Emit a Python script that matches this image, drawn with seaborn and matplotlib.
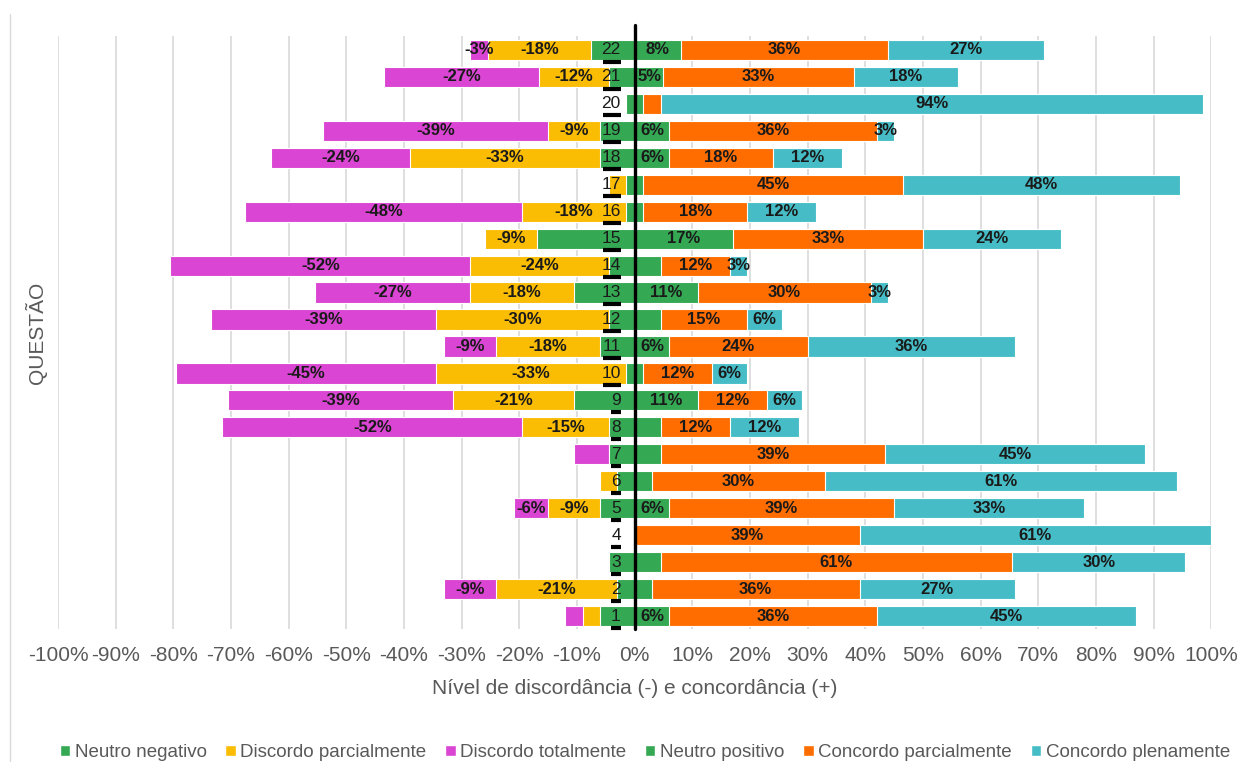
import matplotlib
matplotlib.use("Agg")
import matplotlib.pyplot as plt
from matplotlib.patches import Patch
from matplotlib.lines import Line2D
import pandas as pd
import seaborn as sns

# Questions 1..22 (values in %)
questoes = list(range(1, 23))
neutro_negativo = [6, 3, 4.5, 0, 6, 3, 4.5, 4.5, 10.5, 1.5, 6, 4.5, 10.5, 4.5, 17, 1.5, 1.5, 6, 6, 1.5, 4.5, 7.5]
discordo_parcial = [3, 21, 0, 0, 9, 3, 0, 15, 21, 33, 18, 30, 18, 24, 9, 18, 3, 33, 9, 0, 12, 18]
discordo_total = [3, 9, 0, 0, 6, 0, 6, 52, 39, 45, 9, 39, 27, 52, 0, 48, 0, 24, 39, 0, 27, 3]
neutro_positivo = [6, 3, 4.5, 0, 6, 3, 4.5, 4.5, 11, 1.5, 6, 4.5, 11, 4.5, 17, 1.5, 1.5, 6, 6, 1.5, 5, 8]
concordo_parcial = [36, 36, 61, 39, 39, 30, 39, 12, 12, 12, 24, 15, 30, 12, 33, 18, 45, 18, 36, 3, 33, 36]
concordo_pleno = [45, 27, 30, 61, 33, 61, 45, 12, 6, 6, 36, 6, 3, 3, 24, 12, 48, 12, 3, 94, 18, 27]

# labels not shown in the original
sem_rotulo_total = [1, 7]

legend_labels = ["Neutro negativo", "Discordo parcialmente", "Discordo totalmente",
                 "Neutro positivo", "Concordo parcialmente", "Concordo plenamente"]

GREEN = "#34A853"
YELLOW = "#FBBC04"
MAGENTA = "#DA45D3"
ORANGE = "#FF6D01"
CYAN = "#46BDC6"
GREY = "#595959"

sns.set_style("white")
plt.rcParams["font.family"] = ["Liberation Sans", "DejaVu Sans"]

df = pd.DataFrame({
    "q": [str(q) for q in questoes],
    "nn": neutro_negativo, "dp": discordo_parcial, "dt": discordo_total,
    "np": neutro_positivo, "cp": concordo_parcial, "cl": concordo_pleno,
})
df["left_dp"] = -(df["nn"] + df["dp"])
df["left_dt"] = -(df["nn"] + df["dp"] + df["dt"])
df["left_nn"] = -df["nn"]
df["right_cp"] = df["np"] + df["cp"]
df["right_cl"] = df["np"] + df["cp"] + df["cl"]

order = [str(q) for q in reversed(questoes)]

fig = plt.figure(figsize=(12.4, 7.62), dpi=100)
ax = fig.add_axes([0.0468, 0.1739, 0.93, 0.7782])

bar_kw = dict(y="q", order=order, orient="h", width=0.75, errorbar=None,
              edgecolor="white", linewidth=0.8, ax=ax, zorder=2)
# stacked via overdrawn cumulative bars
sns.barplot(data=df, x="right_cl", color=CYAN, saturation=1, **bar_kw)
sns.barplot(data=df, x="right_cp", color=ORANGE, saturation=1, **bar_kw)
sns.barplot(data=df, x="np", color=GREEN, saturation=1, **bar_kw)
sns.barplot(data=df, x="left_dt", color=MAGENTA, saturation=1, **bar_kw)
sns.barplot(data=df, x="left_dp", color=YELLOW, saturation=1, **bar_kw)
sns.barplot(data=df, x="left_nn", color=GREEN, saturation=1, **bar_kw)

# segment labels
lab_kw = dict(ha="center", va="center", fontsize=12, fontweight="bold", color="#1a1a1a", zorder=4)
for _, r in df.iterrows():
    q = int(r["q"])
    pos = order.index(r["q"])
    if r["dp"] >= 5:
        ax.text(-(r["nn"] + r["dp"] / 2), pos, f"-{r['dp']:.0f}%", **lab_kw)
    if r["dt"] >= 3 and q not in sem_rotulo_total:
        ax.text(-(r["nn"] + r["dp"] + r["dt"] / 2), pos, f"-{r['dt']:.0f}%", **lab_kw)
    if r["np"] >= 5:
        ax.text(r["np"] / 2, pos, f"{r['np']:.0f}%", **lab_kw)
    if r["cp"] >= 5:
        ax.text(r["np"] + r["cp"] / 2, pos, f"{r['cp']:.0f}%", **lab_kw)
    if r["cl"] >= 3:
        ax.text(r["np"] + r["cp"] + r["cl"] / 2, pos, f"{r['cl']:.0f}%", **lab_kw)
    # question number with the dark underline mark
    ax.text(-2.4, pos, r["q"], ha="right", va="center", fontsize=12.5, color="#1a1a1a", zorder=4)
    w = 3.1 if q >= 10 else 1.6
    ax.plot([-2.4 - w / 2], [pos + 0.43], marker="_", markersize=13 if q >= 10 else 6.5,
            markeredgewidth=3, color="black", zorder=5, clip_on=False)

ax.axvline(0, ymin=0, ymax=1.02, color="black", linewidth=2.4, zorder=6, clip_on=False)

ax.set_xlim(-100, 100)
ax.set_ylim(len(order) - 0.5, -0.5)
ticks = list(range(-100, 101, 10))
ax.set_xticks(ticks)
ax.set_xticklabels([f"{t}%" for t in ticks], fontsize=15, color=GREY)
ax.set_yticks([])
ax.tick_params(axis="x", length=0, pad=12)
ax.xaxis.grid(True, color="#d9d9d9", linewidth=1.2, zorder=0)
ax.set_axisbelow(True)
for s in ax.spines.values():
    s.set_visible(False)

ax.set_xlabel("Nível de discordância (-) e concordância (+)", fontsize=15, color=GREY, labelpad=10)
ax.set_ylabel("QUESTÃO", fontsize=15, color=GREY, labelpad=8)

fig.add_artist(Line2D([10 / 1240, 10 / 1240], [0, 1 - 14 / 762], transform=fig.transFigure,
                      color="#d9d9d9", linewidth=1))

handles = [Patch(facecolor=c) for c in [GREEN, YELLOW, MAGENTA, GREEN, ORANGE, CYAN]]
fig.legend(handles, legend_labels, loc="center", bbox_to_anchor=(0.52, 0.012), ncol=6,
           frameon=False, fontsize=13.5, handlelength=0.55, handleheight=0.55,
           handletextpad=0.25, columnspacing=1.0, labelcolor=GREY)

fig.savefig("out.png", dpi=100)
